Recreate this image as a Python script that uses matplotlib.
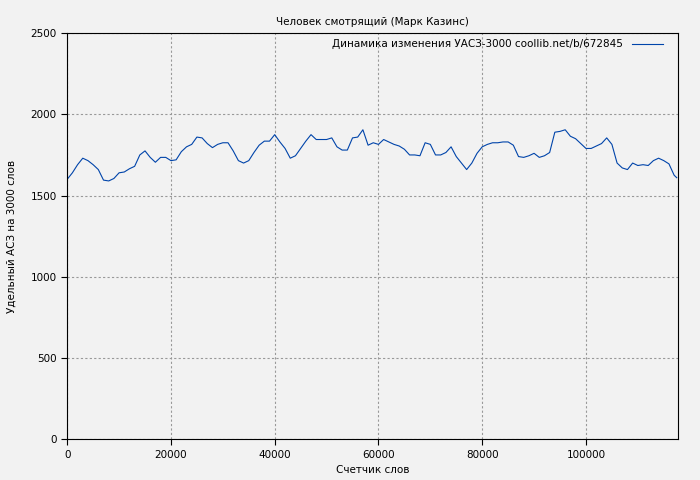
import matplotlib
matplotlib.use("Agg")
import matplotlib.pyplot as plt

words = list(range(0, 118000, 1000)) + [117500]
values = [1600,1640,1690,1730,1715,1690,1660,1595,1590,1605,1640,1645,1665,1680,1750,1775,1735,1705,1735,1735,
          1715,1720,1770,1800,1815,1860,1855,1820,1795,1815,1825,1825,1775,1715,1700,1715,1765,1810,1835,1835,
          1875,1830,1790,1730,1745,1790,1835,1875,1845,1845,1845,1855,1800,1780,1780,1855,1860,1905,1810,1825,
          1815,1845,1830,1815,1805,1785,1750,1750,1745,1825,1815,1750,1750,1765,1800,1740,1700,1660,1700,1760,
          1800,1815,1825,1825,1830,1830,1810,1740,1735,1745,1760,1735,1745,1765,1890,1895,1905,1865,1850,1820,
          1790,1790,1805,1820,1855,1815,1700,1670,1660,1700,1685,1690,1685,1715,1730,1715,1695,1625,1610]
words = sorted(set(words))[:len(values)]

fig = plt.figure(figsize=(7, 4.8), dpi=100, facecolor="#f2f2f2")
ax = fig.add_axes([0.096, 0.085, 0.873, 0.846], facecolor="#f2f2f2")
ax.plot(words, values, color="#0044aa", lw=0.8, label="Динамика изменения УАСЗ-3000 coollib.net/b/672845")
ax.set_xlim(0, 117800)
ax.set_ylim(0, 2500)
ax.set_xticks(range(0, 117800, 20000))
ax.set_yticks(range(0, 2501, 500))
ax.grid(True, color="#999999", ls=(0, (2, 2)), lw=0.8)
ax.tick_params(labelsize=7.5, direction="out", length=4)
ax.set_title("Человек смотрящий (Марк Казинс)", fontsize=7.5)
ax.set_xlabel("Счетчик слов", fontsize=7.5)
ax.set_ylabel("Удельный АСЗ на 3000 слов", fontsize=7.5, labelpad=10)
ax.legend(loc="upper right", fontsize=7.5, frameon=False, handlelength=3, markerfirst=False,
          borderaxespad=0.2, bbox_to_anchor=(0.985, 1.0))
fig.savefig("out.png", facecolor=fig.get_facecolor())
